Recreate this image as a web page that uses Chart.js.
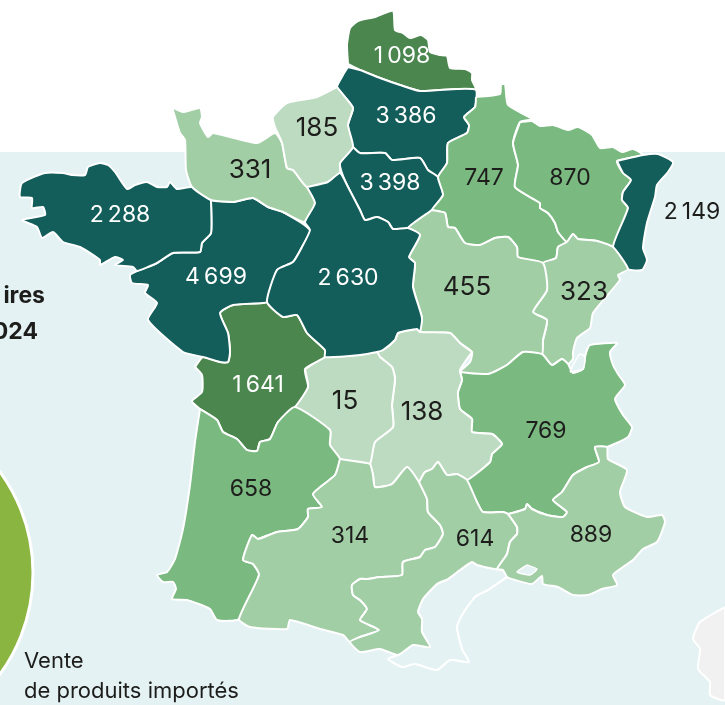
<!DOCTYPE html>
<html lang="fr">
<head>
<meta charset="utf-8">
<title>Carte des régions</title>
<script src="https://cdn.jsdelivr.net/npm/chart.js@4/dist/chart.umd.min.js"></script>
<style>
  html, body { margin: 0; padding: 0; background: #fff; }
  #wrap { width: 725px; height: 705px; }
</style>
</head>
<body>
<div id="wrap"><canvas id="map" width="725" height="705"></canvas></div>
<script>
// valeurs par region, dans l'ordre de regionShapes
const regionValues = [1098, 3386, 3398, 747, 870, 2149, 323, 455, 769, 138, 15, 1641, 4699, 2288, 331, 185, 2630, 658, 314, 614, 889];
const regionShades = [1, 0, 0, 2, 2, 0, 3, 3, 2, 4, 4, 1, 0, 0, 3, 4, 0, 2, 3, 3, 3];
const shadeColors = ['#135e5a', '#4a864e', '#7ab980', '#a2cea6', '#bddbc0'];

// contours en coordonnees carte
const nord = [[348,64],[347,45],[350,28],[358,21],[375,17],[393,11],[395,30],[403,33],[410,38],[421,35],[428,40],[430,52],[440,55],[447,56],[450,68],[465,69],[472,73],[472,80],[476,90],[457,89],[420,91],[400,85],[380,78],[360,70]];
const picardie = [[348,67],[343,75],[337,87],[345,97],[353,108],[348,125],[353,147],[360,153],[385,153],[392,160],[420,158],[428,170],[438,177],[447,163],[448,143],[467,133],[469,125],[464,117],[475,107],[476,90],[457,89],[420,91],[400,85],[380,78],[360,70]];
const idf = [[353,147],[340,163],[342,173],[348,187],[360,210],[365,220],[377,217],[388,222],[393,229],[408,228],[432,210],[443,195],[438,177],[428,170],[420,158],[392,160],[385,153],[360,153]];
const champagne = [[476,97],[500,94],[501,85],[505,84],[508,105],[532,119],[520,122],[513,143],[518,165],[515,187],[540,203],[540,208],[548,213],[555,223],[558,232],[567,242],[558,247],[556,258],[543,263],[518,257],[517,247],[508,237],[495,238],[480,245],[465,243],[455,228],[448,227],[445,213],[432,210],[443,195],[438,177],[447,163],[448,143],[467,133],[469,125],[464,117],[475,107]];
const lorraine = [[520,122],[532,121],[540,126],[553,125],[568,130],[578,127],[592,135],[600,148],[613,147],[622,152],[633,149],[643,155],[617,161],[623,173],[631,180],[623,192],[622,200],[628,208],[613,247],[597,241],[578,239],[573,234],[567,242],[558,232],[555,223],[548,213],[540,208],[540,203],[515,187],[518,165],[513,143]];
const alsace = [[617,161],[643,155],[658,154],[673,162],[668,172],[657,185],[655,197],[647,223],[643,248],[647,260],[642,270],[628,269],[613,247],[628,208],[622,200],[623,192],[631,180],[623,173]];
const franche = [[567,242],[573,234],[578,239],[597,241],[613,247],[628,269],[618,275],[620,280],[593,313],[590,328],[577,338],[573,352],[573,359],[568,364],[562,359],[552,365],[542,354],[543,340],[547,320],[533,312],[547,290],[543,263],[556,258],[558,247]];
const bourgogne = [[432,210],[445,213],[448,227],[455,228],[465,243],[480,245],[495,238],[508,237],[517,247],[518,257],[543,263],[547,290],[533,312],[547,320],[543,340],[542,354],[523,352],[507,365],[488,374],[460,372],[470,362],[472,352],[460,343],[450,333],[420,332],[422,318],[413,287],[415,263],[409,257],[420,235],[408,228]];
const rhone = [[460,372],[488,374],[507,365],[523,352],[542,354],[552,365],[562,359],[568,364],[573,373],[583,369],[585,357],[587,350],[590,345],[617,343],[610,352],[613,365],[618,374],[625,385],[615,399],[623,415],[632,427],[628,437],[607,447],[595,447],[599,462],[587,467],[573,475],[562,492],[553,500],[567,512],[563,517],[547,515],[532,509],[527,504],[525,509],[508,514],[503,512],[483,512],[477,502],[467,480],[490,462],[492,454],[502,444],[492,434],[472,432],[472,419],[460,409],[458,392],[462,380]];
const auvergne = [[472,352],[460,370],[462,380],[458,392],[460,409],[472,419],[472,432],[492,434],[502,444],[492,454],[490,462],[467,480],[457,474],[447,475],[438,462],[432,469],[425,472],[419,482],[407,467],[392,484],[375,487],[373,475],[370,464],[375,442],[393,427],[392,405],[395,379],[392,367],[380,357],[377,352],[383,350],[395,340],[398,333],[417,329],[420,332],[450,333],[460,343]];
const limousin = [[305,369],[308,387],[295,407],[330,430],[330,445],[340,459],[360,462],[370,464],[375,442],[393,427],[392,405],[395,379],[392,367],[380,357],[377,352],[360,355],[325,357]];
const poitou = [[195,367],[203,357],[220,362],[228,362],[230,352],[228,333],[220,313],[233,305],[263,303],[267,302],[283,317],[297,315],[307,333],[325,350],[325,357],[305,369],[308,387],[295,407],[278,422],[270,439],[260,442],[257,451],[247,450],[237,439],[223,432],[217,420],[200,409],[192,401],[202,392],[202,375]];
const loire = [[211,200],[233,202],[253,198],[268,207],[283,212],[310,230],[302,247],[293,262],[277,270],[267,302],[263,303],[233,305],[220,313],[228,333],[230,352],[228,362],[220,362],[203,357],[183,352],[148,320],[157,303],[145,293],[148,285],[132,283],[130,275],[137,271],[157,263],[173,253],[200,252],[202,243],[211,233]];
const bretagne = [[211,200],[192,187],[177,189],[170,182],[167,187],[157,187],[147,182],[135,185],[127,189],[115,172],[108,165],[100,163],[88,167],[85,175],[72,175],[63,173],[45,173],[22,183],[20,197],[32,198],[32,208],[43,207],[45,215],[22,220],[37,227],[42,238],[53,232],[63,242],[80,247],[100,260],[100,265],[115,257],[123,260],[115,265],[133,267],[137,271],[157,263],[173,253],[200,252],[202,243],[211,233]];
const bassenorm = [[172,107],[183,112],[200,108],[202,117],[200,123],[208,137],[213,133],[257,143],[275,133],[282,143],[287,168],[293,170],[307,187],[315,203],[305,222],[283,212],[268,207],[253,198],[233,202],[211,200],[192,187],[186,170],[185,140],[180,133],[175,117]];
const hautenorm = [[337,87],[317,97],[287,103],[273,117],[275,127],[282,143],[287,168],[293,170],[307,187],[328,182],[340,173],[340,163],[353,147],[348,125],[353,108],[345,97]];
const centre = [[307,187],[328,182],[340,173],[348,187],[360,210],[365,220],[377,217],[388,222],[393,229],[408,228],[420,235],[409,257],[415,263],[413,287],[422,318],[420,332],[417,329],[398,333],[395,340],[383,350],[377,352],[360,355],[325,357],[325,350],[307,333],[297,315],[283,317],[267,302],[277,270],[293,262],[302,247],[310,230],[305,222],[315,203]];
const aquitaine = [[200,409],[217,420],[223,432],[237,439],[247,450],[257,451],[260,442],[270,439],[278,422],[295,407],[330,430],[330,445],[340,459],[335,475],[313,494],[322,507],[308,509],[308,517],[298,529],[277,532],[258,539],[252,535],[243,560],[253,564],[259,575],[239,619],[217,620],[210,609],[187,600],[172,599],[176,589],[173,582],[163,582],[157,575],[167,572],[175,559],[183,529],[190,485],[195,442]];
const midipyr = [[340,459],[360,462],[370,464],[373,475],[375,487],[392,484],[407,467],[419,482],[427,499],[428,512],[440,525],[443,534],[435,547],[425,550],[420,557],[403,562],[402,575],[380,577],[367,579],[360,579],[352,585],[353,595],[360,600],[367,609],[360,620],[379,630],[360,637],[350,642],[343,635],[320,629],[290,620],[287,629],[250,627],[239,619],[259,575],[253,564],[243,560],[252,535],[258,539],[277,532],[298,529],[308,517],[308,509],[322,507],[313,494],[335,475]];
const languedoc = [[419,482],[425,472],[432,469],[438,462],[447,475],[457,474],[467,480],[477,502],[483,512],[503,512],[508,514],[517,527],[517,534],[510,542],[507,554],[497,569],[477,565],[472,562],[460,570],[448,579],[437,584],[423,599],[418,612],[422,619],[422,632],[430,647],[413,645],[398,655],[380,649],[360,652],[350,642],[360,637],[379,630],[360,620],[367,609],[360,600],[353,595],[352,585],[360,579],[367,579],[380,577],[402,575],[403,562],[420,557],[425,550],[435,547],[443,534],[440,525],[428,512],[427,499]];
const paca = [[508,514],[525,509],[527,504],[532,509],[547,515],[563,517],[567,512],[553,500],[562,492],[573,475],[587,467],[599,462],[595,447],[607,447],[608,459],[627,470],[620,492],[625,507],[647,517],[662,515],[665,522],[657,542],[643,549],[633,560],[623,567],[613,575],[617,585],[602,589],[588,595],[573,595],[558,587],[543,584],[542,576],[532,584],[515,580],[507,577],[503,570],[497,569],[507,554],[510,542],[517,534],[517,527]];
const regionShapes = [nord, picardie, idf, champagne, lorraine, alsace, franche, bourgogne, rhone, auvergne, limousin, poitou, loire, bretagne, bassenorm, hautenorm, centre, aquitaine, midipyr, languedoc, paca];

// points d'ancrage des valeurs
const labelSpots = [[402,56],[406,116],[390,183],[484,178],[570,178],[692,212],[584,292],[467,287],[546,431],[422,412],[345,401],[258,385],[216,277],[120,215],[250,170],[317,128],[348,278],[251,489],[350,536],[475,539],[591,535]];
const darkLabels = [0, 1, 2, 11, 12, 13, 16];
const bigLabels = [6, 7, 9, 10, 14, 15];

const seaRect = [[0,152],[725,152],[725,705],[0,705]];
const golfe = [[507,577],[488,590],[475,597],[462,615],[457,627],[462,649],[469,662],[450,660],[437,670],[415,664],[402,667],[388,659],[398,655],[413,645],[430,647],[422,632],[422,619],[418,612],[423,599],[437,584],[448,579],[460,570],[472,562],[477,565],[497,569],[503,570]];
const leman = [[570,372],[583,369],[585,357],[580,354],[573,365]];
const berre = [[527,565],[537,569],[530,575],[517,572]];
const corse = [[725,607],[700,622],[693,639],[700,649],[698,669],[710,682],[710,695],[725,700]];
const disque = [{ x: -138, y: 573 }];

const titleLines = ['ires', '024'];
const captionLines = ['Vente', 'de produits importés'];

const SEA = '#e4f2f4';
const toPts = (shape) => shape.concat([shape[0]]).map(p => ({ x: p[0], y: p[1] }));
const fmt = (v) => String(v).replace(/\B(?=(\d{3})+$)/g, '\u2009');

const poly = (label, shape, color, border, width, order, tension = 0.18) => ({
    label, data: toPts(shape), showLine: true, fill: 'shape', backgroundColor: color,
    borderColor: border, borderWidth: width, pointRadius: 0, tension, order
});

const datasets = [];
datasets.push(poly('mer', seaRect, SEA, SEA, 0, 100, 0));
datasets.push({ label: 'vente', data: disque, pointRadius: 171, pointBackgroundColor: '#8ab540', pointBorderColor: '#fff', pointBorderWidth: 3, order: 99 });
datasets.push(poly('corse', corse, '#f1f1f1', '#fff', 2, 98));
datasets.push(poly('golfe', golfe, SEA, '#fff', 2.2, 97));
regionShapes.forEach((s, i) => {
    datasets.push(poly('r' + i, s, shadeColors[regionShades[i]], '#fff', 2, 50 - i));
});
datasets.push(poly('leman', leman, SEA, '#fff', 1.5, 5));
datasets.push(poly('berre', berre, SEA, '#fff', 1.5, 4));

const textPlugin = {
    id: 'mapText',
    afterDatasetsDraw(chart) {
        const { ctx, scales: { x, y } } = chart;
        ctx.save();
        ctx.textBaseline = 'middle';
        ctx.textAlign = 'center';
        regionValues.forEach((v, i) => {
            ctx.font = (bigLabels.includes(i) ? 26 : 23) + 'px Inter';
            ctx.fillStyle = darkLabels.includes(i) ? '#fff' : '#1d1d1b';
            ctx.fillText(fmt(v), x.getPixelForValue(labelSpots[i][0]), y.getPixelForValue(labelSpots[i][1]));
        });
        ctx.textAlign = 'right';
        ctx.font = '700 23px Inter';
        ctx.fillStyle = '#1d1d1b';
        ctx.fillText(titleLines[0], x.getPixelForValue(45), y.getPixelForValue(296));
        ctx.fillText(titleLines[1], x.getPixelForValue(38), y.getPixelForValue(332));
        ctx.textAlign = 'left';
        ctx.font = '22px Inter';
        ctx.fillText(captionLines[0], x.getPixelForValue(24), y.getPixelForValue(661));
        ctx.fillText(captionLines[1], x.getPixelForValue(24), y.getPixelForValue(691));
        ctx.restore();
    }
};

new Chart(document.getElementById('map'), {
    type: 'scatter',
    data: { datasets },
    plugins: [textPlugin],
    options: {
        responsive: false,
        animation: false,
        events: [],
        layout: { padding: 0, autoPadding: false },
        plugins: { legend: { display: false }, tooltip: { enabled: false }, title: { display: false } },
        scales: {
            x: { type: 'linear', display: false, min: 0, max: 725 },
            y: { type: 'linear', display: false, min: 0, max: 705, reverse: true }
        }
    }
});
</script>
</body>
</html>
